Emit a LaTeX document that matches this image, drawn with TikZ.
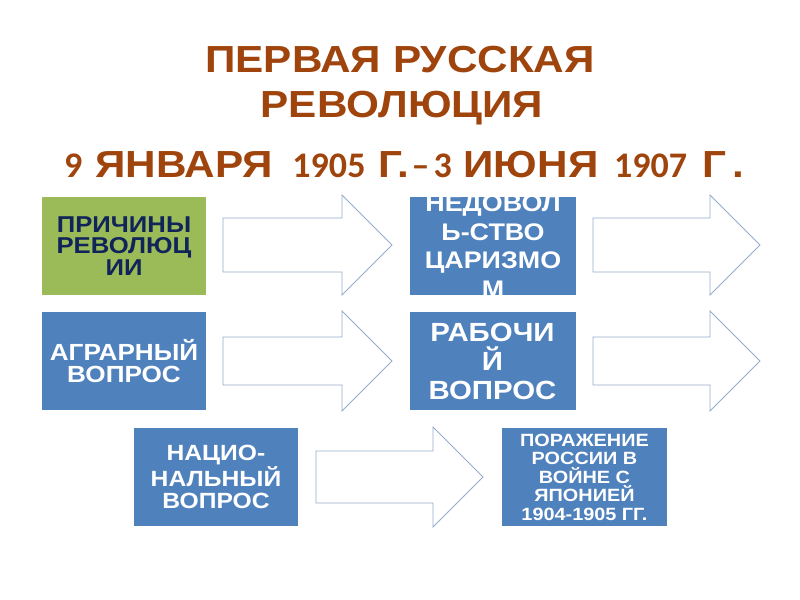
\documentclass[tikz,border=0pt]{standalone}
\usepackage{fontspec}
\setmainfont[FakeStretch=1.12]{Liberation Sans}
\newfontfamily\digitfont{Carlito}
\newcommand{\titlenum}[1]{{\digitfont\bfseries\fontsize{27}{30}\selectfont #1}}
\definecolor{slidebrown}{RGB}{158,68,12}
\definecolor{slideblue}{RGB}{79,129,189}
\definecolor{slidegreen}{RGB}{155,187,89}
\definecolor{slidenavy}{RGB}{16,36,90}
\definecolor{arrowline}{RGB}{150,172,204}

\begin{document}
\begin{tikzpicture}[x=0.75pt,y=-0.75pt,
    cause/.style={fill=slideblue,minimum width=123pt,minimum height=73.5pt,inner sep=0pt,
      text=white,align=center,font=\bfseries\fontsize{17.5}{16.2}\selectfont},
    greencause/.style={cause,fill=slidegreen,text=slidenavy},
    blockarrow/.style={draw=arrowline,fill=white,line width=0.6pt,line join=miter},
    heading/.style={anchor=base,text=slidebrown,font=\bfseries\fontsize{28.3}{30}\selectfont}]

    % Slide frame
    \useasboundingbox (0,0) rectangle (800,600);

    % Title
    \node[heading] (title1) at (400,72) {ПЕРВАЯ РУССКАЯ};
    \node[heading] (title2) at (402,117) {РЕВОЛЮЦИЯ};
    \node[heading] (title3) at (404,177)
        {\titlenum{9}\hspace{1pt} ЯНВАРЯ \hspace{6pt}\titlenum{1905}\hspace{1pt} Г.\titlenum{\hspace{2pt}–\hspace{3pt}3} ИЮНЯ \hspace{3pt}\titlenum{1907} \hspace{3pt}Г\hspace{4pt}.};

    % Row 1
    \node[greencause,font=\bfseries\fontsize{17.2}{16.2}\selectfont] (causes) at (124,246) {ПРИЧИНЫ\\РЕВОЛЮЦ\\ИИ};
    \draw[blockarrow] (223,218) -- (342,218) -- (342,195) -- (392,245) -- (342,295) -- (342,272) -- (223,272) -- cycle;
    \node[cause,minimum width=124.5pt] (tsarism) at (493,246) {};
    \node[text=white,align=center,font=\bfseries\fontsize{18}{21.5}\selectfont] (tsarismtext) at (493,246)
        {НЕДОВОЛ\\Ь-СТВО\\ЦАРИЗМО\\М};
    \draw[blockarrow] (593,218) -- (710,218) -- (710,195) -- (760,245) -- (710,295) -- (710,272) -- (593,272) -- cycle;

    % Row 2
    \node[cause] (agrarian) at (124,361) {АГРАРНЫЙ\\ВОПРОС};
    \draw[blockarrow] (223,337) -- (342,337) -- (342,311) -- (392,361) -- (342,411) -- (342,385) -- (223,385) -- cycle;
    \node[cause,minimum width=124.5pt,font=\bfseries\fontsize{19.7}{21.75}\selectfont] (workers) at (492.5,361) {РАБОЧИ\\Й\\ВОПРОС};
    \draw[blockarrow] (593,337) -- (710,337) -- (710,311) -- (760,361) -- (710,411) -- (710,385) -- (593,385) -- cycle;

    % Row 3
    \node[cause,font=\bfseries\fontsize{16.5}{16.5}\selectfont] (national) at (216,477) {НАЦИО-\\НАЛЬНЫЙ\\ВОПРОС};
    \draw[blockarrow] (316,451) -- (433,451) -- (433,427) -- (483,477) -- (433,527) -- (433,503) -- (316,503) -- cycle;
    \node[cause,minimum width=124pt,font=\bfseries\fontsize{13.3}{13.9}\selectfont] (defeat) at (584.5,477)
        {ПОРАЖЕНИЕ\\РОССИИ В\\ВОЙНЕ С\\ЯПОНИЕЙ\\1904-1905 ГГ.};
\end{tikzpicture}
\end{document}
